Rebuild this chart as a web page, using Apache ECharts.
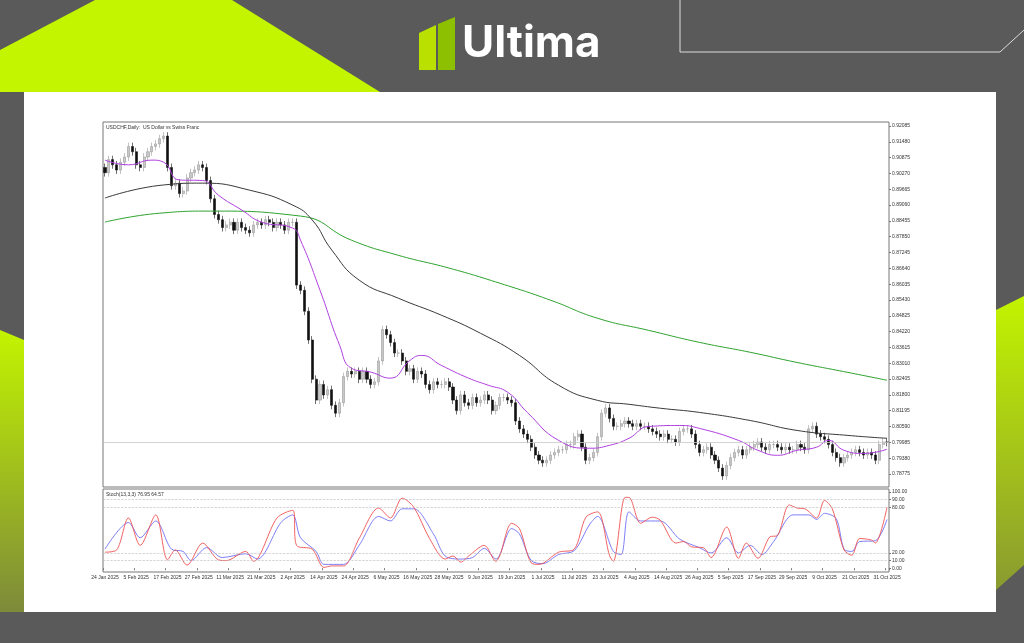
<!DOCTYPE html>
<html><head><meta charset="utf-8">
<script src="https://cdn.jsdelivr.net/npm/echarts@6/dist/echarts.min.js"></script>
<style>html,body{margin:0;padding:0;background:#5a5a5a}#c{width:1024px;height:643px}</style>
</head><body><div id="c"></div>
<script>
const closes=[.903,.908,.906,.904,.907,.909,.913,.911,.906,.905,.909,.911,.913,.914,.916,.917,.905,.898,.899,.895,.896,.901,.903,.904,.906,.905,.900,.893,.887,.885,.882,.883,.884,.881,.884,.882,.881,.880,.883,.884,.883,.885,.884,.882,.884,.883,.881,.884,.884,
.860,.858,.850,.839,.824,.816,.822,.818,.820,.814,.811,.815,.825,.827,.826,.827,.824,.827,.824,.822,.823,.831,.843,.841,.838,.834,.834,.831,.827,.828,.824,.827,.826,.822,.820,.823,.822,.822,.823,.821,.816,.812,.818,.815,.814,.817,.815,.816,
.818,.816,.812,.814,.817,.817,.816,.815,.808,.805,.803,.801,.798,.795,.793,.792,.793,.795,.796,.797,.797,.799,.799,.802,.803,.798,.793,.794,.796,.802,.811,.813,.809,.806,.806,.807,.808,.807,.806,.807,.806,.806,.805,.804,.803,.802,.803,.801,.801,.800,.804,.805,.805,.803,
.799,.796,.797,.798,.795,.793,.790,.787,.791,.794,.796,.797,.795,.797,.798,.799,.800,.798,.797,.799,.799,.798,.797,.798,.797,.797,.799,.798,.797,.805,.806,.803,.802,.801,.799,.796,.794,.792,.794,.795,.796,.797,.796,.795,.796,.795,.793,.799,.800,.7998];
const firstOpen=.905;
const maFast=[[0,.9078],[6,.906],[12,.9078],[15,.907],[19,.9002],[25,.9],[29,.8944],[35,.8887],[40,.8841],[48,.8818],[50,.8772],[55,.858],[60,.837],[63,.8282],[68,.8267],[73,.8244],[78,.8312],[81,.8331],[86,.8293],[93,.8244],[98,.8217],[103,.819],[108,.8113],[116,.8006],[124,.7976],[129,.7987],[134,.8014],[139,.8059],[147,.8063],[152,.8052],[162,.8006],[167,.7968],[172,.7949],[177,.7968],[182,.798],[185,.8006],[189,.7968],[194,.7956],[200,.7972]];
const maMid=[[0,.8933],[15,.8983],[25,.899],[37,.8963],[48,.8906],[53,.8849],[58,.8734],[65,.8619],[75,.855],[86,.8485],[96,.8416],[106,.8331],[116,.8217],[126,.8159],[134,.8144],[142,.8129],[152,.8113],[165,.8082],[177,.8044],[190,.8025],[200,.8014]];
const maSlow=[[0,.8841],[14,.8875],[27,.8883],[50,.8864],[63,.8772],[75,.8714],[88,.8665],[101,.8607],[114,.8542],[126,.8473],[139,.8427],[152,.8381],[165,.8343],[177,.8304],[190,.8266],[200,.8236]];
const stochK=[[0,21],[3,24],[6,66],[9,30],[13,70],[16,11],[18,24],[21,4],[25,33],[29,11],[31,10],[36,22],[38,9],[44,66],[48,76],[49,30],[53,25],[56,1],[58,3],[61,3],[65,39],[70,79],[73,66],[76,92],[79,80],[83,39],[87,12],[89,16],[91,8],[93,16],[97,30],[100,9],[101,17],[104,59],[106,52],[109,7],[111,5],[116,21],[120,25],[123,67],[126,74],[129,17],[130,9],[133,93],[134,93],[137,59],[140,67],[142,63],[146,33],[148,35],[150,28],[153,27],[155,14],[159,54],[162,13],[164,33],[167,13],[170,41],[172,43],[175,83],[177,79],[179,78],[182,66],[184,89],[186,78],[189,24],[191,17],[193,39],[196,37],[197,33],[200,80]];
const stochD=[[0,25],[6,60],[9,40],[13,62],[17,25],[20,22],[22,10],[26,27],[30,14],[36,19],[39,12],[45,60],[48,70],[50,40],[54,22],[56,5],[61,5],[65,30],[70,68],[73,62],[76,78],[79,78],[84,45],[87,16],[91,12],[94,14],[97,26],[100,12],[104,52],[106,45],[109,10],[112,6],[116,18],[120,23],[124,58],[126,68],[130,22],[132,18],[134,74],[137,62],[142,62],[147,38],[152,27],[155,20],[159,40],[162,20],[165,30],[168,18],[171,35],[176,70],[180,70],[182,64],[184,72],[187,65],[189,25],[191,22],[193,35],[197,36],[200,64]];
const priceTicks=[0.92085,0.91480,0.90875,0.90270,0.89665,0.89060,0.88455,0.87850,0.87245,0.86640,0.86035,0.85430,0.84825,0.84220,0.83615,0.83010,0.82405,0.81800,0.81195,0.80590,0.79985,0.79380,0.78775];
const stochTicks=[0,10,20,80,90,100];
const lastPrice=0.7998;

const mon=['Jan','Feb','Mar','Apr','May','Jun','Jul','Aug','Sep','Oct','Nov','Dec'];
const dates=[];let d=new Date(Date.UTC(2025,0,24));
while(dates.length<closes.length){const w=d.getUTCDay();if(w!==0&&w!==6)dates.push(d.getUTCDate()+' '+mon[d.getUTCMonth()]+' 2025');d=new Date(d.getTime()+86400000);}
const ohlc=closes.map((c,i)=>{const o=i?closes[i-1]:firstOpen;return [o,c,Math.min(o,c)-0.0015,Math.max(o,c)+0.0015];});

const ch=echarts.init(document.getElementById('c'));
const fs=5,fc='#333';
ch.setOption({
 animation:false,backgroundColor:'#5a5a5a',
 graphic:[
  {type:'polygon',z:-10,shape:{points:[[95,0],[232,0],[380,92],[0,92],[0,50]]},style:{fill:'#c3f400'}},
  {type:'polygon',z:-10,shape:{points:[[0,330],[24,340],[24,612],[0,612]]},style:{fill:new echarts.graphic.LinearGradient(0,0,0,1,[{offset:0,color:'#c3f400'},{offset:1,color:'#7d8a3a'}])}},
  {type:'polygon',z:-10,shape:{points:[[996,310],[1024,296],[1024,565],[996,590]]},style:{fill:new echarts.graphic.LinearGradient(0,0,0,1,[{offset:0,color:'#c3f400'},{offset:1,color:'#8a9a30'}])}},
  {type:'polyline',z:-9,shape:{points:[[680,0],[680,52],[1000,52],[1024,30]]},style:{stroke:'#dddddd',lineWidth:1,fill:null}},
  {type:'rect',z:-5,shape:{x:24,y:92,width:972,height:520},style:{fill:'#ffffff'}},
  {type:'polygon',shape:{points:[[419,33],[436,25],[436,70],[419,70]]},style:{fill:'#b9e000'}},
  {type:'polygon',shape:{points:[[438,24],[455,17],[455,70],[438,70]]},style:{fill:'#8cc000'}},
  {type:'text',left:462,top:22,style:{text:'Ultima',fill:'#ffffff',font:'bold 44px Inter, Roboto, sans-serif'}},
  {type:'rect',shape:{x:103,y:122,width:786,height:365},style:{fill:null,stroke:'#777',lineWidth:1}},
  {type:'rect',shape:{x:103,y:489,width:786,height:83},style:{fill:null,stroke:'#777',lineWidth:1}},
  {type:'text',left:106,top:125,style:{text:'USDCHF,Daily:  US Dollar vs Swiss Franc',fill:fc,font:fs+'px sans-serif'}},
  {type:'text',left:106,top:492,style:{text:'Stoch(13,3,3) 76.95 64.57',fill:fc,font:fs+'px sans-serif'}}
 ],
 grid:[{left:103,right:135,top:122,height:365},{left:103,right:135,top:489,height:83}],
 xAxis:[
  {type:'category',gridIndex:0,data:dates,boundaryGap:true,axisLine:{show:false},axisTick:{show:false},axisLabel:{show:false}},
  {type:'category',gridIndex:1,data:dates,boundaryGap:true,axisLine:{show:false},axisTick:{show:true,interval:7,length:2,lineStyle:{color:'#777'}},axisLabel:{interval:7,fontSize:fs,color:fc,margin:3,hideOverlap:false,showMinLabel:true,showMaxLabel:true}}
 ],
 yAxis:[
  {type:'value',gridIndex:0,position:'right',min:0.78277,max:0.92238,splitLine:{show:false},axisLine:{show:false},
   axisTick:{show:true,length:2,customValues:priceTicks,lineStyle:{color:'#777'}},axisLabel:{customValues:priceTicks,fontSize:fs,color:fc,margin:3,formatter:v=>v.toFixed(5)}},
  {type:'value',gridIndex:1,position:'right',min:-5,max:104,splitLine:{show:false},axisLine:{show:false},
   axisTick:{show:true,length:2,customValues:stochTicks,lineStyle:{color:'#777'}},axisLabel:{customValues:stochTicks,fontSize:fs,color:fc,margin:3,formatter:v=>v.toFixed(2)}}
 ],
 series:[
  {type:'candlestick',data:ohlc,barWidth:2.6,itemStyle:{color:'#c8c8c8',color0:'#111111',borderColor:'#9a9a9a',borderColor0:'#111111',borderWidth:0.6},
   markLine:{silent:true,symbol:'none',label:{show:false},lineStyle:{color:'#c8c8c8',type:'solid',width:0.8},data:[{yAxis:lastPrice}]}},
  {type:'line',data:maSlow,smooth:true,showSymbol:false,lineStyle:{color:'#2ea32e',width:1}},
  {type:'line',data:maMid,smooth:true,showSymbol:false,lineStyle:{color:'#3a3a3a',width:1}},
  {type:'line',data:maFast,smooth:true,showSymbol:false,lineStyle:{color:'#b040e0',width:1}},
  {type:'line',xAxisIndex:1,yAxisIndex:1,data:stochD,smooth:0.3,showSymbol:false,lineStyle:{color:'#6f6ff5',width:0.9},
   markLine:{silent:true,symbol:'none',label:{show:false},lineStyle:{color:'#bbbbbb',type:'dashed',width:0.6},data:[{yAxis:20},{yAxis:80},{yAxis:10},{yAxis:90}]}},
  {type:'line',xAxisIndex:1,yAxisIndex:1,data:stochK,smooth:0.3,showSymbol:false,lineStyle:{color:'#f05050',width:0.9}}
 ]
});
</script></body></html>
